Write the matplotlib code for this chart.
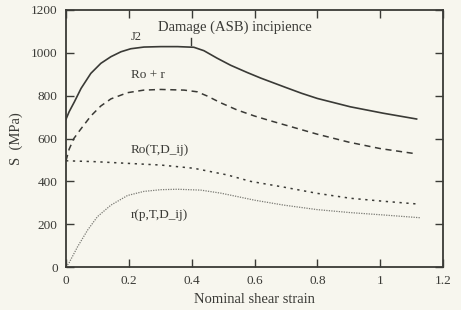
import matplotlib
matplotlib.use("Agg")
import matplotlib.pyplot as plt

# Data
x_j2 = [0.0, 0.01, 0.027, 0.048, 0.079, 0.111, 0.143, 0.175, 0.206, 0.248, 0.302, 0.355, 0.407,
        0.439, 0.481, 0.524, 0.577, 0.62, 0.66, 0.7, 0.75, 0.8, 0.905, 1.01, 1.116]
y_j2 = [690, 725, 772, 834, 904, 951, 982, 1005, 1019, 1027, 1029, 1029, 1026,
        1010, 975, 942, 908, 882, 860, 838, 811, 787, 748, 718, 691]

x_ror = [0.0, 0.01, 0.025, 0.045, 0.079, 0.111, 0.143, 0.196, 0.248, 0.302, 0.376, 0.418,
         0.45, 0.492, 0.545, 0.6, 0.65, 0.7, 0.8, 0.9, 1.0, 1.117]
y_ror = [496, 550, 600, 640, 705, 752, 785, 814, 826, 829, 826, 818,
         798, 767, 733, 705, 683, 662, 620, 583, 553, 528]

x_ro = [0.0, 0.09, 0.196, 0.302, 0.407, 0.513, 0.587, 0.693, 0.799, 0.905, 1.01, 1.12]
y_ro = [496, 492, 484, 476, 461, 430, 400, 373, 344, 321, 307, 294]

x_r = [0.0, 0.01, 0.037, 0.069, 0.1, 0.143, 0.196, 0.248, 0.302, 0.355, 0.429, 0.492, 0.545,
       0.6, 0.693, 0.799, 0.905, 1.01, 1.127]
y_r = [0, 20, 95, 173, 235, 289, 334, 353, 361, 363, 359, 345, 329,
       312, 289, 268, 254, 243, 230]

xticks = [0, 0.2, 0.4, 0.6, 0.8, 1, 1.2]
xtick_labels = ["0", "0.2", "0.4", "0.6", "0.8", "1", "1.2"]
yticks = [0, 200, 400, 600, 800, 1000, 1200]

bg = "#f7f6ee"
ink = "#3a3a36"
plt.rcParams['font.family'] = ['Liberation Serif', 'DejaVu Serif']

fig = plt.figure(figsize=(4.61, 3.10), dpi=100, facecolor=bg)
ax = fig.add_axes([66/461, 1-267/310, (443-66)/461, (267-10)/310], facecolor=bg)

ax.plot(x_j2, y_j2, color=ink, lw=1.2, ls='-')
ax.plot(x_ror, y_ror, color=ink, lw=1.1, ls=(0, (4, 3)))
ax.plot(x_ro, y_ro, color=ink, lw=1.1, ls=(0, (1.5, 3)))
ax.plot(x_r, y_r, color="#7a7a74", lw=0.9, ls=(0, (1, 1)))

# damage incipience marker
ax.plot([0.397, 0.397], [1036, 1069], color=ink, lw=1.0)

fs = 9.5
ax.text(0.206, 1074, "J2", fontsize=9, color=ink, ha='left', va='center')
ax.text(0.292, 1120, "Damage (ASB) incipience", fontsize=10.5, color=ink, ha='left', va='center')
ax.text(0.206, 896, "Ro + r", fontsize=fs, color=ink, ha='left', va='center')
ax.text(0.206, 546, "Ro(T,D_ij)", fontsize=fs, color=ink, ha='left', va='center')
ax.text(0.206, 243, "r(p,T,D_ij)", fontsize=fs, color=ink, ha='left', va='center')

ax.set_xlim(0, 1.2)
ax.set_ylim(0, 1200)
ax.set_xticks(xticks)
ax.set_xticklabels(xtick_labels)
ax.set_yticks(yticks)
ax.tick_params(direction='in', length=6, width=1.0, color=ink, labelcolor=ink,
               labelsize=9.5, top=True, right=True, pad=6)
for s in ax.spines.values():
    s.set_color(ink)
    s.set_linewidth(1.3)

ax.set_xlabel("Nominal shear strain", fontsize=10.5, color=ink, labelpad=4)
ax.set_ylabel("S  (MPa)", fontsize=10.5, color=ink, labelpad=6)

fig.savefig("out.png", dpi=100, facecolor=bg)
